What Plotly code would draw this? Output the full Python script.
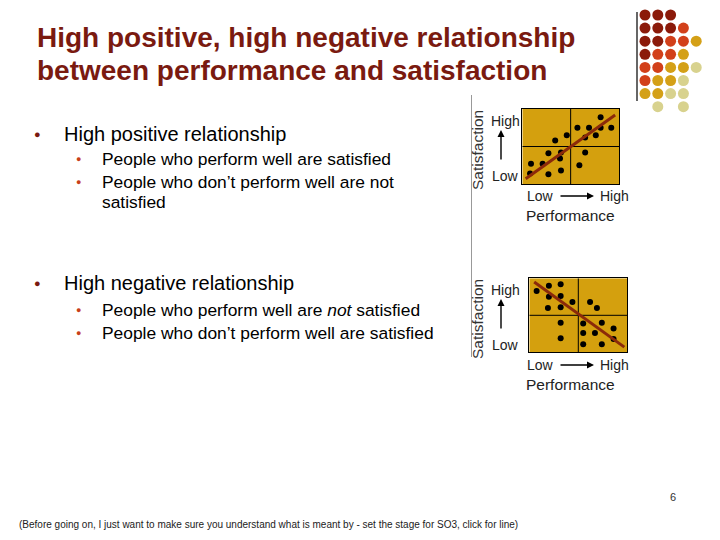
import plotly.graph_objects as go

# high positive relationship (performance, satisfaction on 0-10 scales)
pos_perf = [8.1, 5.7, 6.9, 8.1, 9.2, 4.6, 6.5, 7.6, 3.4, 2.7, 4.0, 6.5, 0.9, 2.1, 3.9, 5.9, 0.8, 2.7, 4.0]
pos_sat = [8.9, 7.5, 7.5, 7.5, 7.5, 6.5, 6.2, 6.5, 5.8, 4.1, 4.2, 4.2, 2.7, 2.7, 3.4, 2.5, 1.4, 1.3, 1.8]
pos_line_x = [0.35, 9.6]
pos_line_y = [0.7, 9.2]

# high negative relationship
neg_perf = [0.75, 2.0, 3.2, 2.0, 3.2, 1.9, 3.2, 4.4, 6.2, 6.9, 3.2, 3.2, 5.5, 7.4, 5.5, 6.7, 8.6, 5.5, 7.4, 8.6]
neg_sat = [8.3, 9.0, 9.2, 7.5, 7.6, 6.0, 6.1, 6.8, 6.8, 6.0, 4.0, 1.9, 3.9, 4.0, 2.6, 2.6, 3.2, 1.1, 1.1, 1.8]
neg_line_x = [0.5, 9.7]
neg_line_y = [9.5, 0.7]

# decorative dot grid top right (D dark, O orange, G gold, P pale)
deco_rows = ["DDD", "DDDO", "DDOOG", "DOOG", "OOGGP", "OGGP", "GGPP", " P P"]
deco_colors = {"D": "#8B1A0A", "O": "#D2401A", "G": "#D4A017", "P": "#D8D28E"}

title_lines = ["High positive, high negative relationship",
               "between performance and satisfaction"]
footer = "(Before going on, I just want to make sure you understand what is meant by - set the stage for SO3, click for line)"

FONT = "Arial, Liberation Sans, sans-serif"
BOX = "#D4A00E"
LINE = "#8B2A0A"


def px(x):
    return x / 720


def py(y):
    return 1 - y / 540


fig = go.Figure()

# scatter boxes
fig.add_trace(go.Scatter(x=pos_perf, y=pos_sat, mode="markers", xaxis="x", yaxis="y",
                         marker=dict(color="black", size=6), showlegend=False))
fig.add_trace(go.Scatter(x=pos_line_x, y=pos_line_y, mode="lines", xaxis="x", yaxis="y",
                         line=dict(color=LINE, width=3), showlegend=False))
fig.add_trace(go.Scatter(x=neg_perf, y=neg_sat, mode="markers", xaxis="x2", yaxis="y2",
                         marker=dict(color="black", size=6), showlegend=False))
fig.add_trace(go.Scatter(x=neg_line_x, y=neg_line_y, mode="lines", xaxis="x2", yaxis="y2",
                         line=dict(color=LINE, width=3), showlegend=False))

# decorative dots
dx, dy, dc = [], [], []
for r, row in enumerate(deco_rows):
    for c, ch in enumerate(row):
        if ch != " ":
            dx.append(c)
            dy.append(r)
            dc.append(deco_colors[ch])
fig.add_trace(go.Scatter(x=dx, y=dy, mode="markers", xaxis="x3", yaxis="y3",
                         marker=dict(color=dc, size=11), showlegend=False, hoverinfo="skip"))

box_axis = dict(range=[0, 10], showgrid=False, zeroline=False, showticklabels=False,
                ticks="", showline=True, linecolor="black", linewidth=1, mirror=True, fixedrange=True)

shapes = []
for xr, yr in [("x", "y"), ("x2", "y2")]:
    shapes.append(dict(type="rect", xref=xr, yref=yr, x0=0, x1=10, y0=0, y1=10,
                       fillcolor=BOX, line=dict(width=0), layer="below"))
    shapes.append(dict(type="line", xref=xr, yref=yr, x0=5, x1=5, y0=0, y1=10,
                       line=dict(color="black", width=1), layer="below"))
    shapes.append(dict(type="line", xref=xr, yref=yr, x0=0, x1=10, y0=5, y1=5,
                       line=dict(color="black", width=1), layer="below"))
# separator and decorative rule
shapes.append(dict(type="line", xref="paper", yref="paper", x0=px(471.5), x1=px(471.5),
                   y0=py(95), y1=py(357), line=dict(color="#999999", width=1)))
shapes.append(dict(type="line", xref="paper", yref="paper", x0=px(637), x1=px(637),
                   y0=py(12), y1=py(101), line=dict(color="black", width=1.2)))

ann = []


def text(x, y, s, size, color="black", **kw):
    d = dict(x=px(x), y=py(y), xref="paper", yref="paper", text=s, showarrow=False,
             xanchor="left", yanchor="middle", font=dict(family=FONT, size=size, color=color))
    d.update(kw)
    ann.append(d)


text(35, 37, "<b>" + title_lines[0] + "</b>", 28, "#7A1A10")
text(35, 70, "<b>" + title_lines[1] + "</b>", 28, "#7A1A10")

for y, s in [(134, "High positive relationship"), (283, "High negative relationship")]:
    text(32, y, "●", 11, "#7A1A10")
    text(62, y, s, 20)
for y, s, bullet in [(159, "People who perform well are satisfied", True),
                     (182, "People who don’t perform well are not", True),
                     (201.5, "satisfied", False),
                     (310, "People who perform well are <i>not</i> satisfied", True),
                     (333, "People who don’t perform well are satisfied", True)]:
    if bullet:
        text(74, y, "●", 9, "#C8401A")
    text(100, y, s, 17.4)

for off in [0, 169]:
    text(477, 150 + off, "Satisfaction", 15.5, "#333333", textangle=-90, xanchor="center")
    text(489, 121 + off, "High", 14, "#222222")
    text(490, 176 + off, "Low", 14, "#222222")
    text(525, 196 + off, "Low", 14, "#222222")
    text(598, 196 + off, "High", 14, "#222222")
    text(524, 215 + off, "Performance", 15.5, "#222222")
    ann.append(dict(x=px(501), y=py(130 + off), xref="paper", yref="paper", text="",
                    showarrow=True, ax=0, ay=31, arrowhead=2, arrowsize=1, arrowwidth=1.4,
                    arrowcolor="black"))
    ann.append(dict(x=px(594), y=py(196 + off), xref="paper", yref="paper", text="",
                    showarrow=True, ax=-35, ay=0, arrowhead=2, arrowsize=1, arrowwidth=1.4,
                    arrowcolor="black"))

text(673, 497, "6", 11, "#333333", xanchor="center")
text(17, 524, footer, 10, "#222222")

fig.update_layout(
    width=720, height=540,
    margin=dict(l=0, r=0, t=0, b=0),
    paper_bgcolor="white", plot_bgcolor="rgba(0,0,0,0)",
    xaxis=dict(domain=[px(522.3), px(619)], **box_axis),
    yaxis=dict(domain=[py(184), py(109)], **box_axis),
    xaxis2=dict(domain=[px(529.3), px(627.3)], anchor="y2", **box_axis),
    yaxis2=dict(domain=[py(352.3), py(278.3)], anchor="x2", **box_axis),
    xaxis3=dict(domain=[0, 1], range=[-645 / 12.8, (720 - 645) / 12.8], visible=False,
                anchor="y3", fixedrange=True),
    yaxis3=dict(domain=[0, 1], range=[(540 - 15) / 13.1, -15 / 13.1], visible=False,
                anchor="x3", fixedrange=True),
    shapes=shapes,
    annotations=ann,
)

# page body has a default margin, drop it so the slide sits at the window corner
fig.write_html("out.html", config={"displayModeBar": False},
               post_script="document.body.style.margin='0';")
